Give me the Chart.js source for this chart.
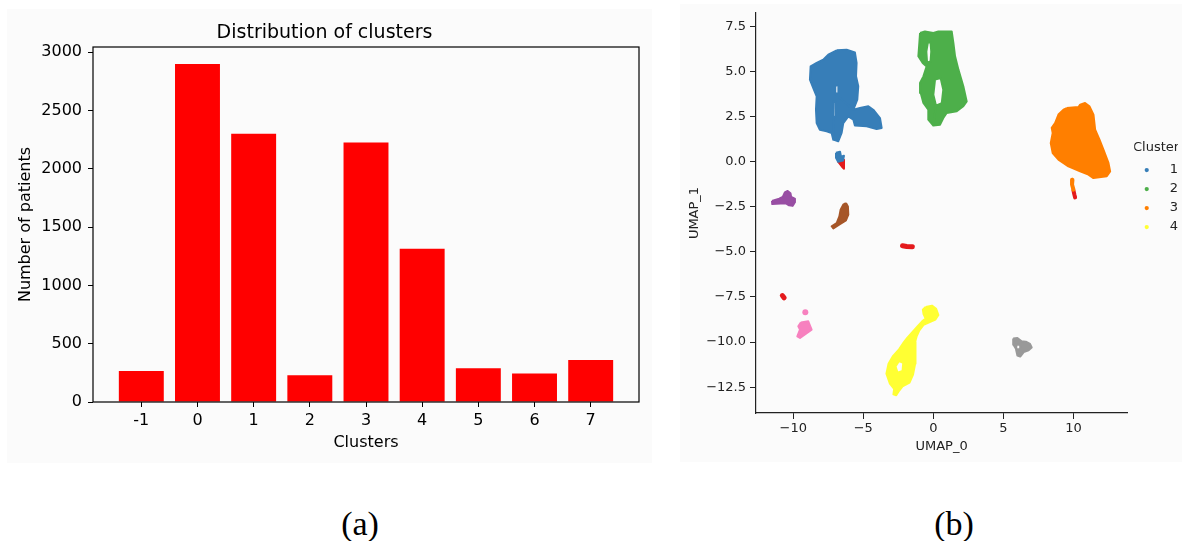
<!DOCTYPE html>
<html>
<head>
<meta charset="utf-8">
<script src="https://cdn.jsdelivr.net/npm/chart.js@4.4.1/dist/chart.umd.min.js"></script>
<style>
  body { margin: 0; width: 1187px; height: 541px; background: #fff; position: relative; overflow: hidden; }
  .panel { position: absolute; background: #fbfbfb; }
  canvas { position: absolute; top: 0; }
  .cap { position: absolute; top: 507px; width: 100px; text-align: center; font: 34px/34px "Liberation Serif", "Times New Roman", serif; color: #000; }
</style>
</head>
<body>
<div class="panel" style="left:7px;top:9px;width:645px;height:454px"></div>
<div class="panel" style="left:680px;top:4px;width:502px;height:458px"></div>
<canvas id="bars" width="660" height="470" style="left:0"></canvas>
<canvas id="umap" width="507" height="470" style="left:680px"></canvas>
<div class="cap" style="left:310px">(a)</div>
<div class="cap" style="left:904px">(b)</div>
<script>
// patients per cluster
const clusterLabels = ['-1', '0', '1', '2', '3', '4', '5', '6', '7'];
const patientCounts = [265, 2900, 2300, 230, 2225, 1315, 290, 245, 360];
const countTicks = [0, 500, 1000, 1500, 2000, 2500, 3000];

// UMAP embedding, each group traced as an outline in (UMAP_0, UMAP_1)
const umapXTicks = [-10, -5, 0, 5, 10];
const umapYTicks = [-12.5, -10, -7.5, -5, -2.5, 0, 2.5, 5, 7.5];
const legendNames = ['1', '2', '3', '4'];

const cluster1 = [
  [-6.9, 6.17], [-6.19, 6.21], [-5.6, 6.06], [-5.48, 5.47], [-5.52, 4.73], [-5.36, 4.18],
  [-5.43, 3.44], [-5.71, 2.88], [-5.24, 2.97], [-4.64, 3.07], [-4.29, 2.88], [-3.81, 2.42],
  [-3.69, 1.87], [-4.05, 1.81], [-4.76, 1.96], [-5.6, 2.0], [-5.71, 2.33], [-6.07, 2.51],
  [-6.43, 2.14], [-6.55, 1.59], [-6.79, 1.13], [-7.14, 1.22], [-7.26, 1.59], [-7.62, 1.68],
  [-8.1, 1.77], [-8.33, 2.14], [-8.38, 2.88], [-8.33, 3.62], [-8.57, 4.08], [-8.81, 4.55],
  [-8.76, 5.28], [-8.33, 5.47], [-7.86, 5.65], [-7.5, 5.93]
];
const cluster1GapA = [[-7.0, 3.75], [-6.8, 3.8], [-6.78, 4.2], [-7.0, 4.25]];
const cluster1GapB = [[-7.15, 2.4], [-7.0, 2.5], [-6.95, 3.3], [-7.1, 3.35]];
const cluster1Bit = [[-6.95, 0.5], [-6.66, 0.55], [-6.59, 0.28], [-6.38, 0.33], [-6.45, 0.06], [-6.8, 0.0], [-6.95, 0.22]];

const cluster2 = [
  [-0.95, 7.13], [-0.6, 7.22], [0, 7.13], [0.36, 7.22], [1.31, 7.22], [1.43, 6.58], [1.55, 5.84],
  [1.79, 5.1], [2.14, 4.18], [2.38, 3.34], [2.14, 3.07], [1.67, 2.79], [0.95, 2.7], [0.71, 2.42],
  [0.48, 2.05], [0, 2.0], [-0.36, 2.33], [-0.36, 2.88], [-0.71, 3.25], [-0.9, 3.81], [-0.95, 4.36],
  [-0.71, 4.73], [-0.48, 5.28], [-0.76, 5.47], [-1.07, 5.84], [-1.0, 6.58]
];
const cluster2GapLow = [[0.19, 3.1], [0.6, 3.25], [0.71, 3.99], [0.52, 4.64], [0.12, 4.55], [0, 3.71]];
const cluster2GapHigh = [[-0.45, 5.5], [-0.2, 5.55], [-0.15, 6.1], [-0.2, 6.6], [-0.38, 6.65], [-0.5, 6.1]];

const cluster3 = [
  [9.52, 2.97], [10.36, 3.03], [10.48, 3.16], [10.83, 3.25], [11.14, 3.07], [11.43, 2.61],
  [11.55, 1.77], [11.86, 1.22], [12.14, 0.67], [12.5, -0.07], [12.62, -0.54], [12.38, -0.81],
  [11.43, -0.91], [11.07, -0.72], [10.48, -0.54], [9.64, -0.26], [8.93, 0.11], [8.52, 0.48],
  [8.38, 1.03], [8.52, 1.59], [8.45, 1.87], [8.69, 2.14], [8.93, 2.61], [9.29, 2.88]
];
const cluster3Tail = [[9.93, -1.0], [9.9, -1.27], [10.0, -1.55]];

const cluster4 = [
  [-0.55, -8.05], [-0.1, -7.98], [0.2, -8.15], [0.36, -8.5], [0.15, -8.75], [-0.3, -8.9],
  [-0.7, -9.05], [-1.0, -9.35], [-1.2, -9.7], [-1.3, -10.0], [-1.25, -10.5], [-1.3, -11.2],
  [-1.45, -11.8], [-1.7, -12.25], [-2.2, -12.45], [-2.45, -12.7], [-2.65, -12.95], [-2.85, -12.9],
  [-2.8, -12.6], [-3.1, -12.3], [-3.35, -11.75], [-3.2, -11.2], [-2.9, -10.8], [-2.45, -10.4],
  [-2.1, -10.0], [-1.85, -9.75], [-1.5, -9.45], [-1.1, -9.1], [-0.8, -8.85], [-0.55, -8.7],
  [-0.7, -8.45], [-0.75, -8.2]
];
const cluster4Gap = [[-2.2, -11.6], [-2.15, -11.15], [-2.45, -11.05], [-2.7, -11.35], [-2.55, -11.7]];

const cluster0 = [
  [-11.52, -2.18], [-11.0, -2.05], [-10.75, -1.95], [-10.6, -1.7], [-10.4, -1.62], [-10.2, -1.75],
  [-10.15, -1.95], [-9.9, -2.05], [-9.88, -2.25], [-10.05, -2.45], [-10.3, -2.42], [-10.55, -2.3],
  [-10.9, -2.32], [-11.5, -2.35]
];
const cluster5 = [
  [-6.24, -2.29], [-6.1, -2.48], [-6.07, -2.94], [-6.24, -3.25], [-6.67, -3.46], [-7.14, -3.7],
  [-7.26, -3.58], [-6.9, -3.4], [-6.71, -3.03], [-6.62, -2.66], [-6.43, -2.38]
];
const cluster6 = [
  [-9.45, -8.91], [-8.93, -8.85], [-8.69, -9.31], [-9.04, -9.5], [-9.52, -9.77], [-9.71, -9.68],
  [-9.52, -9.31], [-9.64, -9.13]
];
const cluster6Dot = [[-9.14, -8.35]];
const cluster7 = [
  [5.7, -9.8], [6.0, -9.77], [6.3, -9.95], [6.6, -9.98], [6.9, -10.1], [7.02, -10.3], [6.8, -10.45],
  [6.45, -10.55], [6.2, -10.8], [6.0, -10.75], [5.9, -10.4], [5.72, -10.15]
];
const cluster7Gap = [[5.93, -10.4], [6.2, -10.4], [6.2, -10.15], [5.93, -10.15]];

// noise points (-1) sit in small bits across the map
const noiseA = [[-6.8, 0.0], [-6.38, 0.11], [-6.38, -0.39], [-6.52, -0.28]];
const noiseB = [[10.0, -1.59], [10.07, -1.83], [10.12, -1.98]];
const noiseC = [[-2.2, -4.66], [-1.9, -4.7], [-1.5, -4.72]];
const noiseD = [[-10.78, -7.42], [-10.65, -7.55]];

const set1 = {
  red: '#e41a1c', blue: '#377eb8', green: '#4daf4a', purple: '#984ea3', orange: '#ff7f00',
  yellow: '#ffff33', brown: '#a65628', pink: '#f781bf', gray: '#999999'
};

Chart.defaults.font.family = '"DejaVu Sans", sans-serif';

// close an outline, cutting each gap in after outline point `at`
function ring(outline, gaps = []) {
  const pts = [];
  outline.forEach((p, i) => {
    pts.push(p);
    gaps.filter(g => g.at === i).forEach(g => pts.push(...g.pts, g.pts[0], p));
  });
  pts.push(outline[0]);
  return pts;
}

function blob(label, pts, color) {
  return {
    label, data: pts, showLine: true, fill: 'shape',
    backgroundColor: color, borderColor: color, borderWidth: 2,
    borderJoinStyle: 'round', pointRadius: 0
  };
}

function streak(label, pts, color, width) {
  return {
    label, data: pts, showLine: true, fill: false,
    backgroundColor: color, borderColor: color, borderWidth: width,
    borderCapStyle: 'round', borderJoinStyle: 'round', pointRadius: 0
  };
}

// box around the bar plot
const frame = {
  id: 'frame',
  afterDraw(chart) {
    const { ctx, chartArea: a } = chart;
    ctx.save();
    ctx.strokeStyle = '#000';
    ctx.lineWidth = 1.2;
    ctx.strokeRect(a.left, a.top, a.right - a.left, a.bottom - a.top);
    ctx.restore();
  }
};

new Chart(document.getElementById('bars'), {
  type: 'bar',
  data: {
    datasets: [{
      data: patientCounts.map((v, i) => ({ x: i, y: v })),
      backgroundColor: '#ff0000',
      barPercentage: 0.8,
      categoryPercentage: 1
    }]
  },
  options: {
    responsive: false,
    animation: false,
    events: [],
    layout: { padding: { left: 10, right: 21, top: 0, bottom: 18 } },
    plugins: {
      legend: { display: false },
      tooltip: { enabled: false },
      title: {
        display: true, text: 'Distribution of clusters', color: '#000',
        font: { size: 19, weight: 'normal' }, padding: { top: 21.6, bottom: 2.6 }
      }
    },
    scales: {
      x: {
        type: 'linear', min: -0.86, max: 8.86, offset: false,
        afterBuildTicks: s => { s.ticks = clusterLabels.map((_, i) => ({ value: i })); },
        afterFit: s => { s.height = 50; },
        ticks: { callback: v => clusterLabels[v], color: '#000', font: { size: 16 }, padding: 4, maxRotation: 0, autoSkip: false },
        grid: { offset: false, drawOnChartArea: false, tickLength: 5, tickColor: '#000' },
        border: { display: false },
        title: { display: true, text: 'Clusters', color: '#000', font: { size: 16 }, padding: 0 }
      },
      y: {
        min: 0, max: 3045,
        afterBuildTicks: s => { s.ticks = countTicks.map(v => ({ value: v })); },
        afterFit: s => { s.width = 83; },
        ticks: { callback: v => String(v), color: '#000', font: { size: 16 }, padding: 6 },
        grid: { drawOnChartArea: false, tickLength: 5, tickColor: '#000' },
        border: { display: false },
        title: { display: true, text: 'Number of patients', color: '#000', font: { size: 16 }, padding: { top: 6, bottom: 0 } }
      }
    }
  },
  plugins: [frame]
});

const minus = s => s.replace('-', '\u2212');

new Chart(document.getElementById('umap'), {
  type: 'scatter',
  data: {
    datasets: [
      blob('1', ring(cluster1, [{ at: 7, pts: cluster1GapA }, { at: 21, pts: cluster1GapB }]), set1.blue),
      blob('2', ring(cluster2, [{ at: 15, pts: cluster2GapLow }, { at: 22, pts: cluster2GapHigh }]), set1.green),
      blob('3', ring(cluster3), set1.orange),
      blob('4', ring(cluster4, [{ at: 11, pts: cluster4Gap }]), set1.yellow),
      blob('1 bit', ring(cluster1Bit), set1.blue),
      streak('3 tail', cluster3Tail, set1.orange, 4),
      blob('0', ring(cluster0), set1.purple),
      blob('5', ring(cluster5), set1.brown),
      blob('6', ring(cluster6), set1.pink),
      { label: '6 dot', data: cluster6Dot, pointRadius: 3, backgroundColor: set1.pink, borderWidth: 0 },
      blob('7', ring(cluster7, [{ at: 10, pts: cluster7Gap }]), set1.gray),
      blob('-1', ring(noiseA), set1.red),
      streak('-1 b', noiseB, set1.red, 4),
      streak('-1 c', noiseC, set1.red, 5),
      streak('-1 d', noiseD, set1.red, 5)
    ]
  },
  options: {
    responsive: false,
    animation: false,
    events: [],
    layout: { padding: { left: 5, right: 9, top: 13, bottom: 16 } },
    plugins: {
      tooltip: { enabled: false },
      legend: {
        position: 'right',
        align: 'start',
        title: { display: true, text: 'Cluster', color: '#222', font: { size: 13 }, padding: { top: 128, bottom: 1 } },
        labels: {
          usePointStyle: true, boxWidth: 13, boxHeight: 3, padding: 6, textAlign: 'right',
          color: '#222', font: { size: 13 },
          generateLabels: chart => Chart.defaults.plugins.legend.labels.generateLabels(chart)
            .filter(item => legendNames.includes(item.text))
            .map(item => Object.assign(item, { lineWidth: 0 }))
        }
      }
    },
    scales: {
      x: {
        min: -12.66, max: 13.84,
        afterBuildTicks: s => { s.ticks = umapXTicks.map(v => ({ value: v })); },
        afterFit: s => { s.height = 41; },
        ticks: { callback: v => minus(String(v)), color: '#222', font: { size: 13 }, padding: 1.5, maxRotation: 0 },
        grid: { drawOnChartArea: false, tickLength: 6, tickColor: '#222' },
        border: { color: '#222', width: 1.2 },
        title: { display: true, text: 'UMAP_0', color: '#222', font: { size: 13 }, padding: 0 }
      },
      y: {
        min: -13.93, max: 8.24,
        afterBuildTicks: s => { s.ticks = umapYTicks.map(v => ({ value: v })); },
        afterFit: s => { s.width = 71; },
        ticks: { callback: v => minus(v.toFixed(1)), color: '#222', font: { size: 13 }, padding: 4 },
        grid: { drawOnChartArea: false, tickLength: 6, tickColor: '#222' },
        border: { color: '#222', width: 1.2 },
        title: { display: true, text: 'UMAP_1', color: '#222', font: { size: 13 }, padding: { top: 2.2, bottom: 0 } }
      },
      gap: {
        type: 'linear', position: 'right',
        ticks: { display: false },
        grid: { display: false },
        border: { display: false },
        afterFit: s => { s.width = 7; }
      }
    }
  }
});
</script>
</body>
</html>
